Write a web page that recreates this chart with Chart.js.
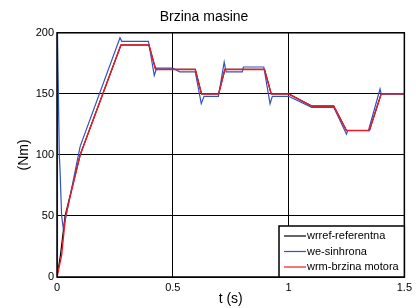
<!DOCTYPE html>
<html>
<head>
<meta charset="utf-8">
<script src="https://cdn.jsdelivr.net/npm/chart.js@4"></script>
<style>
  body { margin: 0; background: #fff; }
  canvas { display: block; }
</style>
</head>
<body>
<canvas id="grafica" width="416" height="308"></canvas>
<script>
    // wrref - referentna (time, value)
    let tRef   = [0, 0.015, 0.035, 0.1, 0.276, 0.397, 0.426, 0.597, 0.624, 0.698, 0.725, 0.896, 0.925, 1.0, 1.1, 1.195, 1.25, 1.349, 1.4, 1.5];
    let wrref  = [0, 18, 50, 100, 190, 190, 170, 170, 150, 150, 170, 170, 150, 150, 140, 140, 120, 120, 150, 150];

    // we - sinhrona
    let tWe    = [0, 0.002, 0.01, 0.013, 0.02, 0.027, 0.035, 0.1, 0.272, 0.28, 0.395, 0.42, 0.43, 0.5, 0.53, 0.597, 0.623, 0.635, 0.697, 0.722, 0.73, 0.8, 0.805, 0.893, 0.92, 0.93, 1.0, 1.1, 1.195, 1.25, 1.255, 1.345, 1.395, 1.4, 1.5];
    let we     = [0, 200, 100, 88, 50, 40, 46, 107, 196, 193, 193, 165, 171, 171, 168, 168, 142, 148, 148, 176, 168, 168, 172, 172, 142, 148, 148, 139, 139, 117, 120, 120, 154, 150, 150];

    // wrm - brzina motora
    let tWrm   = [0, 0.02, 0.037, 0.1, 0.276, 0.397, 0.426, 0.597, 0.624, 0.698, 0.725, 0.896, 0.925, 1.0, 1.1, 1.195, 1.25, 1.349, 1.4, 1.5];
    let wrm    = [0, 18, 50, 100, 190, 190, 170, 170, 150, 150, 170, 170, 150, 150, 140, 140, 120, 120, 150, 150];

    let xTicks = [0, 0.5, 1, 1.5];
    let yTicks = [0, 50, 100, 150, 200];

    let fuente = "'Liberation Sans', Arial, sans-serif";

    function puntos(t, v) {
        return t.map(function (x, i) { return {x: x, y: v[i]}; });
    }

    // marco del grafico y leyenda dentro del area
    let marcoLeyenda = {
        id: "marcoLeyenda",
        afterDraw: function (chart) {
            let ctx = chart.ctx;
            let a = chart.chartArea;
            ctx.save();
            ctx.strokeStyle = "#000";
            ctx.lineWidth = 1.5;
            ctx.strokeRect(a.left, a.top, a.right - a.left, a.bottom - a.top);

            let bx = 279, by = 226, bw = a.right - 279, bh = a.bottom - 226;
            ctx.fillStyle = "#fff";
            ctx.fillRect(bx, by, bw, bh);
            ctx.lineWidth = 1.5;
            ctx.strokeRect(bx, by, bw, bh);

            ctx.font = "11px " + fuente;
            ctx.textBaseline = "middle";
            ctx.textAlign = "left";
            let filas = [236, 251.5, 267];
            chart.data.datasets.forEach(function (ds, i) {
                ctx.strokeStyle = ds.borderColor;
                ctx.lineWidth = 1.2;
                ctx.beginPath();
                ctx.moveTo(284, filas[i]);
                ctx.lineTo(306, filas[i]);
                ctx.stroke();
                ctx.fillStyle = "#000";
                ctx.fillText(ds.label, 307, filas[i]);
            });
            ctx.restore();
        }
    };

    let ctx = document.getElementById("grafica").getContext("2d");
    let miGrafica = new Chart(ctx, {
        type: "line",
        data: {
            datasets: [{
                label: "wrref-referentna",
                data: puntos(tRef, wrref),
                borderColor: "#000000",
                borderWidth: 1.2,
                order: 2
            },
            {
                label: "we-sinhrona",
                data: puntos(tWe, we),
                borderColor: "#2f52c4",
                borderWidth: 1.2,
                order: 1
            },
            {
                label: "wrm-brzina motora",
                data: puntos(tWrm, wrm),
                borderColor: "#ee1a24",
                borderWidth: 1.4,
                order: 0
            }]
        },
        options: {
            responsive: false,
            animation: false,
            layout: { padding: { left: 0, right: 8, top: 0, bottom: 0 } },
            elements: { point: { radius: 0 }, line: { tension: 0 } },
            plugins: {
                legend: { display: false },
                tooltip: { enabled: false },
                title: {
                    display: true,
                    text: "Brzina masine",
                    color: "#000",
                    font: { family: fuente, size: 14, weight: "normal", lineHeight: 1.2 },
                    padding: { top: 9, bottom: 7 }
                }
            },
            scales: {
                x: {
                    type: "linear",
                    min: 0,
                    max: 1.5,
                    afterFit: function (s) { s.height = 31; },
                    afterBuildTicks: function (s) { s.ticks = xTicks.map(function (v) { return {value: v}; }); },
                    grid: { color: "#000", lineWidth: 1, drawTicks: false },
                    border: { display: false },
                    ticks: {
                        color: "#000",
                        padding: 4,
                        maxRotation: 0,
                        font: { family: fuente, size: 11 },
                        callback: function (v) { return String(v); }
                    },
                    title: {
                        display: true,
                        text: "t (s)",
                        color: "#000",
                        font: { family: fuente, size: 14 },
                        padding: { top: 0, bottom: 0 }
                    }
                },
                y: {
                    min: 0,
                    max: 200,
                    afterFit: function (s) { s.width = 57; },
                    afterBuildTicks: function (s) { s.ticks = yTicks.map(function (v) { return {value: v}; }); },
                    grid: { color: "#000", lineWidth: 1, drawTicks: false },
                    border: { display: false },
                    ticks: {
                        color: "#000",
                        padding: 3,
                        font: { family: fuente, size: 11 }
                    },
                    title: {
                        display: true,
                        text: "(Nm)",
                        color: "#000",
                        font: { family: fuente, size: 14 },
                        padding: { top: 16, bottom: 0 }
                    }
                }
            }
        },
        plugins: [marcoLeyenda]
    });
</script>
</body>
</html>
